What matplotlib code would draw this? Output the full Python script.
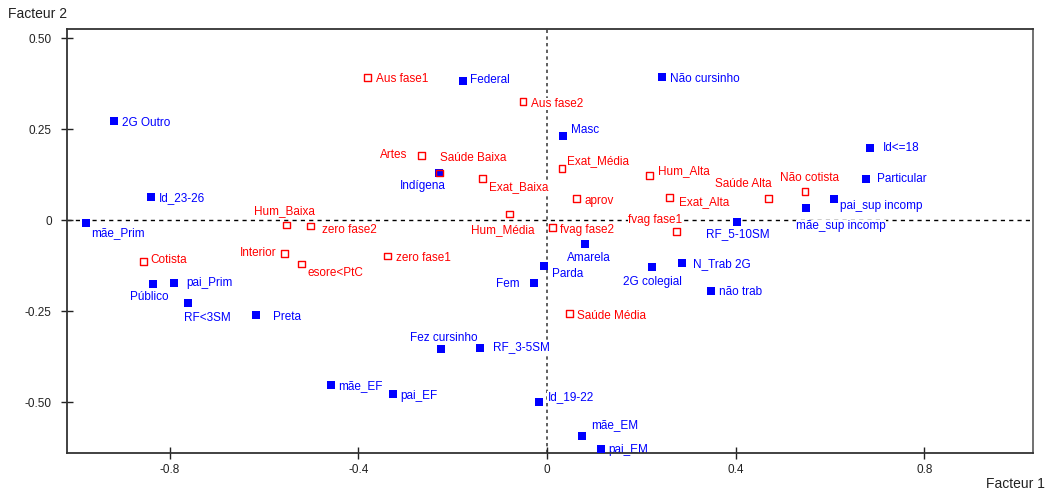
import matplotlib.pyplot as plt

plt.rcParams['font.family'] = ['Liberation Sans', 'DejaVu Sans']

# modalités actives (carrés pleins bleus)
blue_names = ['2G Outro', 'Id_23-26', 'mãe_Prim', 'Federal', 'Não cursinho', 'Masc',
              'Indígena', 'Amarela', 'Id<=18', 'Particular', 'pai_sup incomp',
              'mãe_sup incomp', 'RF_5-10SM', 'Público', 'pai_Prim', 'RF<3SM', 'Preta',
              'mãe_EF', 'Parda', 'Fem', '2G colegial', 'N_Trab 2G', 'Fez cursinho',
              'RF_3-5SM', 'pai_EF', 'Id_19-22', 'mãe_EM', 'pai_EM', 'não trab']
blue_x = [-0.919, -0.839, -0.978, -0.178, 0.243, 0.035,
          -0.228, 0.081, 0.686, 0.676, 0.608,
          0.550, 0.402, -0.835, -0.790, -0.761, -0.618,
          -0.458, -0.006, -0.028, 0.222, 0.286, -0.225,
          -0.142, -0.326, -0.016, 0.075, 0.114, 0.347]
blue_y = [0.273, 0.065, -0.007, 0.381, 0.392, 0.231,
          0.130, -0.065, 0.198, 0.114, 0.058,
          0.033, -0.005, -0.175, -0.171, -0.227, -0.260,
          -0.453, -0.125, -0.171, -0.129, -0.116, -0.353,
          -0.352, -0.477, -0.499, -0.593, -0.627, -0.194]

# modalités supplémentaires (carrés vides rouges)
red_names = ['Hum_Baixa', 'zero fase2', 'Aus fase1', 'Aus fase2', 'Artes', 'Saúde Baixa',
             'Exat_Baixa', 'Exat_Média', 'Hum_Alta', 'aprov', 'Exat_Alta', 'Hum_Média',
             'fvag fase2', 'fvag fase1', 'Saúde Alta', 'Não cotista', 'Cotista',
             'Interior', 'esore<PtC', 'zero fase1', 'Saúde Média']
red_x = [-0.552, -0.501, -0.380, -0.051, -0.267, -0.228,
         -0.137, 0.032, 0.217, 0.062, 0.260, -0.079,
         0.011, 0.274, 0.470, 0.547, -0.856,
         -0.557, -0.521, -0.338, 0.048]
red_y = [-0.013, -0.016, 0.392, 0.325, 0.178, 0.130,
         0.114, 0.142, 0.122, 0.059, 0.063, 0.017,
         -0.019, -0.030, 0.060, 0.078, -0.114,
         -0.092, -0.120, -0.098, -0.257]

xticks = [-0.8, -0.4, 0, 0.4, 0.8]
xtick_labels = ['-0.8', '-0.4', '0', '0.4', '0.8']
yticks = [0.5, 0.25, 0, -0.25, -0.5]
ytick_labels = ['0.50', '0.25', '0', '-0.25', '-0.50']

# décalage des étiquettes (pixels, alignement)
offsets = {
    '2G Outro': (8, -2, 'left'), 'Id_23-26': (7, -1, 'left'), 'mãe_Prim': (5, -10, 'left'),
    'Federal': (7, 1, 'left'), 'Não cursinho': (8, -2, 'left'), 'Masc': (8, 6, 'left'),
    'Indígena': (6, -13, 'right'), 'Amarela': (4, -14, 'center'), 'Id<=18': (12, 0, 'left'),
    'Particular': (11, 0, 'left'), 'pai_sup incomp': (6, -7, 'left'),
    'mãe_sup incomp': (-10, -18, 'left'), 'RF_5-10SM': (1, -12, 'center'),
    'Público': (-4, -13, 'center'), 'pai_Prim': (12, 0, 'left'), 'RF<3SM': (-4, -15, 'left'),
    'Preta': (17, -2, 'left'), 'mãe_EF': (7, -1, 'left'), 'Parda': (8, -8, 'left'),
    'Fem': (-14, -1, 'right'), '2G colegial': (1, -15, 'center'), 'N_Trab 2G': (11, -2, 'left'),
    'Fez cursinho': (3, 11, 'center'), 'RF_3-5SM': (13, 1, 'left'), 'pai_EF': (7, -2, 'left'),
    'Id_19-22': (8, 5, 'left'), 'mãe_EM': (9, 11, 'left'), 'pai_EM': (8, -1, 'left'),
    'não trab': (8, -1, 'left'),
    'Hum_Baixa': (-2, 14, 'center'), 'zero fase2': (11, -4, 'left'), 'Aus fase1': (8, -2, 'left'),
    'Aus fase2': (8, -2, 'left'), 'Artes': (-14, 0, 'right'), 'Saúde Baixa': (1, 15, 'left'),
    'Exat_Baixa': (7, -8, 'left'), 'Exat_Média': (5, 7, 'left'), 'Hum_Alta': (9, 5, 'left'),
    'aprov': (8, -2, 'left'), 'Exat_Alta': (9, -5, 'left'), 'Hum_Média': (25, -16, 'right'),
    'fvag fase2': (8, -3, 'left'), 'fvag fase1': (6, 11, 'right'), 'Saúde Alta': (3, 14, 'right'),
    'Não cotista': (5, 14, 'center'), 'Cotista': (7, 2, 'left'), 'Interior': (-8, 1, 'right'),
    'esore<PtC': (6, -9, 'left'), 'zero fase1': (8, -2, 'left'), 'Saúde Média': (7, -2, 'left'),
}

fig = plt.figure(figsize=(10.6, 4.93), dpi=100)
ax = fig.add_axes([0.0632, 0.0811, 0.911, 0.860])

ax.axhline(0, color='black', lw=1, ls=(0, (3, 3)), zorder=1)
ax.axvline(0, color='#444444', lw=1.2, ls=(0, (2, 2)), zorder=1)

ax.scatter(blue_x, blue_y, marker='s', s=33, color='#0000ff', linewidths=0, zorder=3)
ax.scatter(red_x, red_y, marker='s', s=24, facecolors='none', edgecolors='#ff0000',
           linewidths=1, zorder=4)


def label(names, xs, ys, color):
    for n, x, y in zip(names, xs, ys):
        dx, dy, ha = offsets[n]
        ax.annotate(n, (x, y), xytext=(dx, dy), textcoords='offset pixels',
                    ha=ha, va='center', fontsize=8.5, color=color, zorder=2,
                    bbox=dict(fc='white', ec='none', pad=0.1))


label(blue_names, blue_x, blue_y, '#0000ff')
label(red_names, red_x, red_y, '#ff0000')

ax.set_xlim(-1.018, 1.030)
ax.set_ylim(-0.639, 0.525)
ax.set_xticks(xticks)
ax.set_xticklabels(xtick_labels)
ax.set_yticks(yticks)
ax.set_yticklabels(ytick_labels)
ax.tick_params(direction='inout', length=8, width=1, labelsize=8.5, colors='#222222')
ax.tick_params(axis='y', pad=7)
ax.tick_params(axis='x', pad=4)

for side in ['left', 'bottom', 'top']:
    ax.spines[side].set_color('#333333')
    ax.spines[side].set_linewidth(1.3)
ax.spines['right'].set_color('#666666')
ax.spines['right'].set_linewidth(1.3)

fig.text(0.008, 0.972, 'Facteur 2', fontsize=10, color='#222222', va='center')
fig.text(0.986, 0.019, 'Facteur 1', fontsize=10, color='#222222', va='center', ha='right')

fig.savefig('out.png', dpi=100)
